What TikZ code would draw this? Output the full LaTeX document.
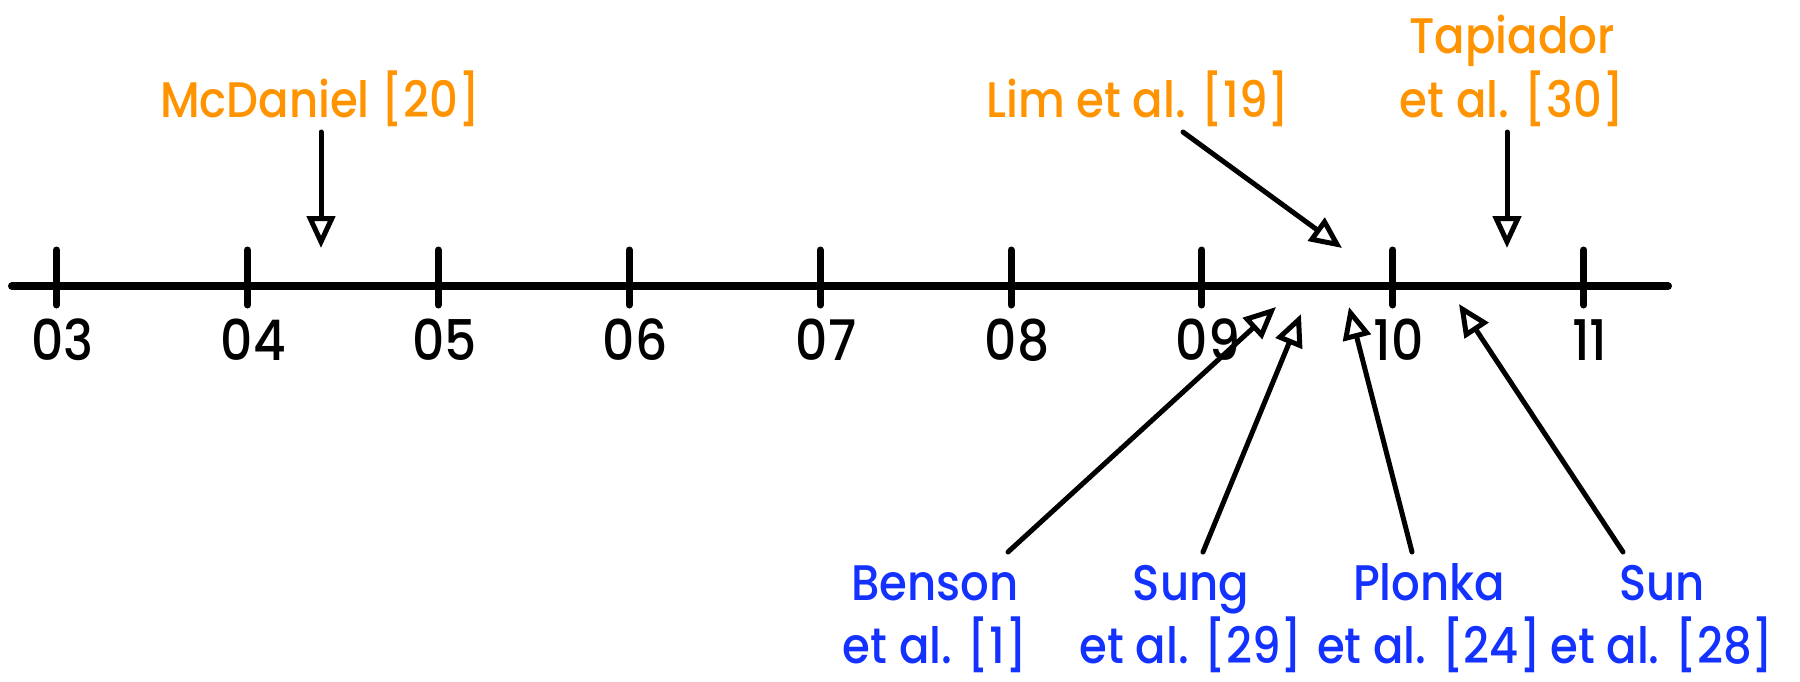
\documentclass[tikz,border=0pt]{standalone}
\usepackage{fontspec}
\IfFontExistsTF{Poppins Medium}
  {\setmainfont{Poppins Medium}[FakeStretch=0.9]}
  {\setmainfont{Poppins}[FakeStretch=0.9, FakeBold=0.6]}
\usetikzlibrary{arrows.meta}
\definecolor{refOrange}{RGB}{255,147,0}
\definecolor{refBlue}{RGB}{20,50,255}
\tikzset{
  axisline/.style={line width=8pt, line cap=round},
  tickmark/.style={line width=7pt, line cap=round},
  pointer/.style={line width=5pt, line cap=round, -{Triangle[open, length=32pt, width=28pt]}},
  yearlabel/.style={font=\fontsize{56}{60}\selectfont, anchor=base, inner sep=0pt},
  citeorange/.style={text=refOrange, font=\fontsize{50}{64}\selectfont, align=center, anchor=base, inner sep=0pt},
  citeblue/.style={text=refBlue, font=\fontsize{50}{63}\selectfont, align=center, anchor=base, inner sep=0pt},
}
\begin{document}
\begin{tikzpicture}[x=1pt,y=-1pt]
\useasboundingbox (0,0) rectangle (1800,681);
% axis
\coordinate (axL) at (12,286);
\coordinate (axR) at (1668,286);
\draw[axisline] (axL) -- (axR);
% ticks and years
\foreach \lab [count=\i from 0] in {03,04,05,06,07,08,09,10,11} {
  \pgfmathsetmacro{\tx}{56.5+190.9*\i}
  \coordinate (tickTop\lab) at (\tx,250);
  \coordinate (tickBot\lab) at (\tx,305);
  \draw[tickmark] (tickTop\lab) -- (tickBot\lab);
  \node[yearlabel] (year\lab) at (\tx+6,360) {\lab};
}
% upper labels (anchor=base is the last line's baseline)
\node[citeorange] (mcdaniel) at (320,117) {McDaniel [20]};
\node[citeorange] (lim) at (1138,117) {Lim et al. [19]};
\node[citeorange] (tapiador) at (1512,117) {Tapiador\\et al. [30]};
% lower labels
\node[citeblue] (benson) at (935,663) {Benson\\et al. [1]};
\node[citeblue] (sung) at (1191,663) {Sung\\et al. [29]};
\node[citeblue] (plonka) at (1429,663) {Plonka\\et al. [24]};
\node[citeblue] (sun) at (1662,663) {Sun\\et al. [28]};
% arrow ends
\coordinate (mcdS) at (321,132);  \coordinate (mcdT) at (321,248);
\coordinate (limS) at (1183,132); \coordinate (limT) at (1342,248);
\coordinate (tapS) at (1507,132); \coordinate (tapT) at (1507,248);
\coordinate (benS) at (1008,552); \coordinate (benT) at (1276,307);
\coordinate (sngS) at (1203,552); \coordinate (sngT) at (1301,314);
\coordinate (plkS) at (1412,552); \coordinate (plkT) at (1349,307);
\coordinate (sunS) at (1623,552); \coordinate (sunT) at (1459,304);
\draw[pointer] (mcdS) -- (mcdT);
\draw[pointer] (limS) -- (limT);
\draw[pointer] (tapS) -- (tapT);
\draw[pointer] (benS) -- (benT);
\draw[pointer] (sngS) -- (sngT);
\draw[pointer] (plkS) -- (plkT);
\draw[pointer] (sunS) -- (sunT);
\end{tikzpicture}
\end{document}
